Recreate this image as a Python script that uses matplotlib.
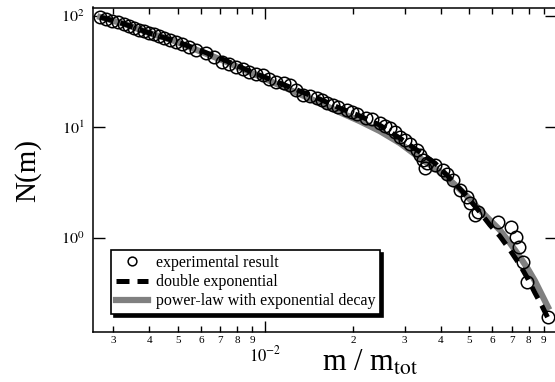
import matplotlib
matplotlib.use('Agg')
import matplotlib.pyplot as plt
from matplotlib.ticker import FixedLocator, FixedFormatter, NullLocator

# =====================
# Data
# =====================
# experimental result
exp_m = [0.00271, 0.00284, 0.00298, 0.00313, 0.00328, 0.00341, 0.00355, 0.00369,
         0.00384, 0.00399, 0.00416, 0.00432, 0.00450, 0.00472, 0.00494, 0.00519,
         0.00548, 0.00579, 0.00627, 0.00668, 0.00712, 0.00752, 0.00795, 0.00834,
         0.00881, 0.00931, 0.00977, 0.01032, 0.0109, 0.01153, 0.0121, 0.01268,
         0.0134, 0.01416, 0.0150, 0.01558, 0.0162, 0.01699, 0.01768, 0.0190,
         0.01975, 0.02054, 0.0222, 0.02313, 0.0247, 0.02564, 0.02668, 0.02776,
         0.0289, 0.03004, 0.03125, 0.0330, 0.0338, 0.0346, 0.0352, 0.0358, 0.03809,
         0.0406, 0.04188, 0.0439, 0.04642, 0.0491, 0.05023, 0.0523, 0.0535,
         0.0627, 0.0695, 0.0723, 0.0741, 0.0764, 0.0789, 0.0931]
exp_N = [98.6, 94.0, 90.7, 88.3, 84.7, 81.3, 78.0, 74.8,
         73.3, 70.3, 68.8, 66.0, 63.4, 60.8, 58.3, 55.9,
         52.6, 49.4, 46.4, 42.7, 38.5, 37.0, 34.7, 33.3,
         31.3, 30.0, 29.4, 27.1, 25.4, 24.9, 23.9, 21.5,
         19.4, 19.0, 18.3, 17.5, 16.5, 15.8, 15.1, 14.2,
         13.6, 13.1, 12.1, 11.8, 10.9, 10.2, 9.80, 9.02,
         8.13, 7.64, 7.03, 6.21, 5.6, 5.0, 4.27, 4.74, 4.55,
         4.10, 3.77, 3.33, 2.71, 2.34, 2.07, 1.61, 1.71,
         1.39, 1.26, 1.02, 0.830, 0.608, 0.401, 0.194]

# fitted curves
fit_m = [0.00271, 0.00328, 0.00399, 0.00487, 0.00593, 0.00723, 0.00881, 0.01074,
         0.01309, 0.01533, 0.01796, 0.02104, 0.02465, 0.02887, 0.03383, 0.03809,
         0.04289, 0.04829, 0.05439, 0.05886, 0.06369, 0.06896, 0.07464, 0.07951,
         0.08403, 0.08883, 0.0931]
dexp_N = [97.9, 84.7, 70.3, 59.6, 49.4, 40.1, 31.9, 26.0,
          21.1, 17.9, 14.8, 12.6, 10.4, 7.96, 5.95, 4.74,
          3.47, 2.49, 1.71, 1.31, 1.04, 0.780, 0.571, 0.427,
          0.320, 0.244, 0.190]
plaw_N = [97.9, 84.7, 70.3, 59.6, 48.4, 39.3, 31.3, 24.9,
          19.8, 16.5, 13.6, 11.3, 9.20, 7.18, 5.26, 4.27,
          3.33, 2.49, 1.79, 1.45, 1.18, 0.901, 0.674, 0.525,
          0.410, 0.306, 0.239]

# x tick labels
xminor_pos = [0.003, 0.004, 0.005, 0.006, 0.007, 0.008, 0.009,
              0.02, 0.03, 0.04, 0.05, 0.06, 0.07, 0.08, 0.09]
xminor_lab = ['3', '4', '5', '6', '7', '8', '9',
              '2', '3', '4', '5', '6', '7', '8', '9']

# =========
# Plotting
# =========
plt.rcParams['font.family'] = 'serif'
plt.rcParams['font.serif'] = ['Liberation Serif']
plt.rcParams['mathtext.fontset'] = 'stix'

fig = plt.figure(figsize=(5.55, 3.82), dpi=100)
ax = fig.add_axes([93 / 555, 50 / 382, 464 / 555, 324.5 / 382])

ax.plot(exp_m, exp_N, 'o', mfc='none', mec='black', ms=9, mew=1.1,
        label='experimental result', zorder=3)
ax.plot(fit_m, dexp_N, color='black', lw=3.6, ls=(0, (2.6, 1.6)),
        label='double exponential', zorder=4)
ax.plot(fit_m, plaw_N, color='#808080', lw=4.5,
        label='power-law with exponential decay', zorder=2)

ax.set_xscale('log')
ax.set_yscale('log')
ax.set_xlim(0.00256, 0.1)
ax.set_ylim(0.1423, 119.3)

# ticks
ax.xaxis.set_major_locator(FixedLocator([0.01]))
ax.xaxis.set_major_formatter(FixedFormatter([r'$10^{-2}$']))
ax.xaxis.set_minor_locator(FixedLocator(xminor_pos))
ax.xaxis.set_minor_formatter(FixedFormatter(xminor_lab))
ax.yaxis.set_major_locator(FixedLocator([1, 10, 100]))
ax.yaxis.set_major_formatter(FixedFormatter([r'$10^{0}$', r'$10^{1}$', r'$10^{2}$']))
ax.yaxis.set_minor_locator(NullLocator())

ax.tick_params(which='both', direction='in', top=True, right=True, width=1.0)
ax.tick_params(axis='x', which='major', length=8, pad=10, labelsize=12)
ax.tick_params(axis='x', which='minor', length=4.5, pad=3, labelsize=8)
ax.tick_params(axis='y', which='major', length=8.5, pad=6, labelsize=11.5)
for s in ax.spines.values():
    s.set_linewidth(1.1)

# labels
fig.text(28 / 555, 1 - 170 / 382, 'N(m)', rotation=90, ha='center', va='center', fontsize=21)
fig.text(370 / 555, 1 - 363 / 382, r'm / m$_{\mathrm{tot}}$', ha='center', va='center', fontsize=22)

# legend
leg = ax.legend(loc='lower left', bbox_to_anchor=(0.039, 0.055), borderaxespad=0,
                fontsize=11.5, frameon=True, fancybox=False,
                shadow={'color': 'black', 'alpha': 1}, markerscale=0.7,
                handlelength=2.0, handletextpad=0.5, labelspacing=0.2,
                borderpad=0.3)
leg.get_frame().set_edgecolor('black')
leg.get_frame().set_linewidth(1.2)
leg.get_frame().set_alpha(1)

plt.savefig('out.png', dpi=100)
